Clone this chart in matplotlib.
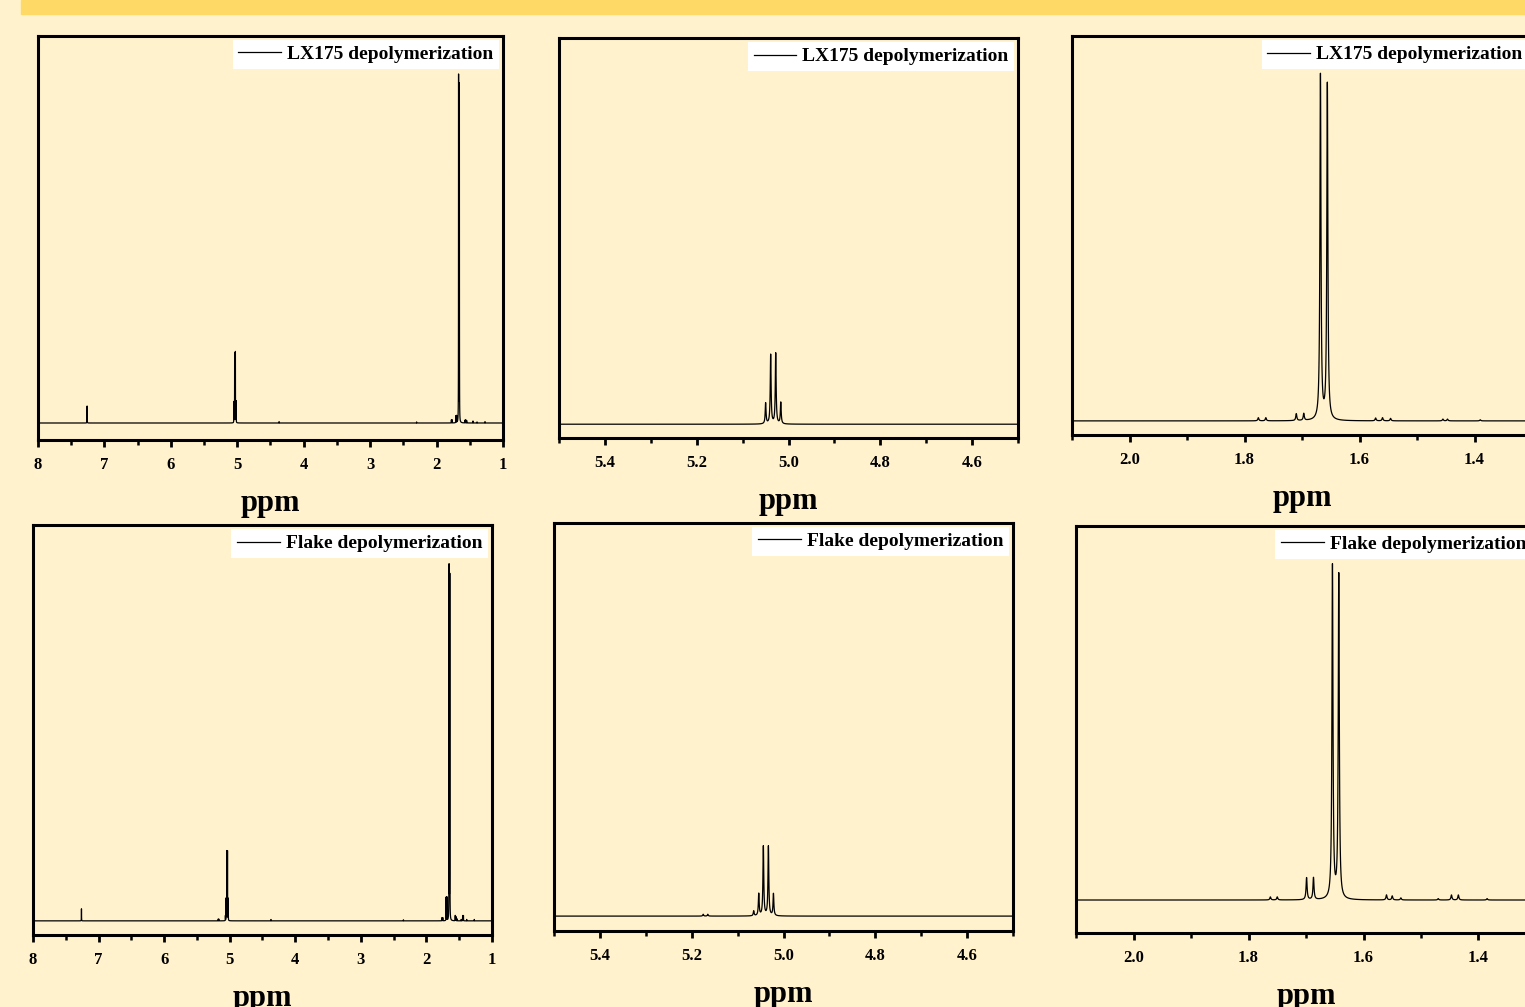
import numpy as np
import matplotlib
matplotlib.use("Agg")
from matplotlib import pyplot as plt
from matplotlib.patches import Rectangle
from matplotlib.ticker import MultipleLocator

# peak lists (ppm, relative height; tallest peak = 1)
lx_shift = [7.26, 5.050, 5.039, 5.028, 5.017, 4.37, 2.30,
            1.776, 1.763, 1.710, 1.697, 1.668, 1.656,
            1.572, 1.560, 1.546, 1.455, 1.447, 1.39, 1.27]
lx_height = [0.049, 0.060, 0.200, 0.204, 0.062, 0.004, 0.003,
             0.009, 0.009, 0.020, 0.020, 1.0, 0.974,
             0.008, 0.009, 0.007, 0.005, 0.005, 0.003, 0.004]

flake_shift = [7.26, 5.175, 5.165, 5.065, 5.054, 5.044, 5.033, 5.022, 4.37, 2.35,
               1.762, 1.750, 1.699, 1.687, 1.654, 1.643,
               1.560, 1.550, 1.535, 1.470, 1.447, 1.435, 1.385, 1.27]
flake_height = [0.034, 0.005, 0.005, 0.014, 0.062, 0.196, 0.196, 0.062, 0.004, 0.003,
                0.009, 0.009, 0.066, 0.066, 1.0, 0.973,
                0.015, 0.012, 0.006, 0.004, 0.015, 0.015, 0.004, 0.004]

labels = ["LX175 depolymerization", "Flake depolymerization"]
x_ranges = [(8, 1), (5.5, 4.5), (2.1, 1.3)]
major_steps = [1, 0.2, 0.2]
minor_steps = [0.5, 0.1, 0.1]
tick_fmt = ["{:.0f}", "{:.1f}", "{:.1f}"]

# axes boxes [left, bottom, width, height] in figure fraction
boxes = [
    [[0.0249, 0.5631, 0.3049, 0.4012], [0.3666, 0.5650, 0.3010, 0.3972], [0.7030, 0.5680, 0.3016, 0.3962]],
    [[0.0216, 0.0715, 0.3010, 0.4071], [0.3633, 0.0755, 0.3010, 0.4052], [0.7056, 0.0735, 0.3016, 0.4042]],
]
ylims = [
    [(-0.049, 1.118), (-0.040, 1.116), (-0.041, 1.116)],
    [(-0.040, 1.119), (-0.042, 1.110), (-0.099, 1.123)],
]

bg = "#FFF2CC"
band = "#FFD966"
plt.rcParams["font.family"] = ["Liberation Serif", "DejaVu Serif"]
plt.rcParams["path.simplify"] = False


def spectrum(ppm, shifts, heights, gamma=0.0011):
    y = np.zeros_like(ppm)
    for s, h in zip(shifts, heights):
        y += h / (1 + ((ppm - s) / gamma) ** 2)
    return y


ppm = np.arange(0.9, 8.1, 0.0001)
spectra = [spectrum(ppm, lx_shift, lx_height), spectrum(ppm, flake_shift, flake_height)]

fig = plt.figure(figsize=(15.25, 10.07), dpi=100)
fig.patch.set_facecolor(bg)
fig.patches.append(Rectangle((21 / 1525, 1 - 14 / 1007), 1.0, 14 / 1007,
                             transform=fig.transFigure, color=band, zorder=0))

for row in range(2):
    for col in range(3):
        ax = fig.add_axes(boxes[row][col])
        ax.set_facecolor(bg)
        ax.plot(ppm, spectra[row], color="black", lw=0.9, label=labels[row])
        ax.set_xlim(*x_ranges[col])
        ax.set_ylim(*ylims[row][col])
        ax.xaxis.set_major_locator(MultipleLocator(major_steps[col]))
        ax.xaxis.set_minor_locator(MultipleLocator(minor_steps[col]))
        ax.xaxis.set_major_formatter(plt.FuncFormatter(lambda v, p, f=tick_fmt[col]: f.format(v)))
        ax.tick_params(axis="x", which="major", direction="out", length=5, width=2,
                       labelsize=12, pad=7)
        ax.tick_params(axis="x", which="minor", direction="out", length=3.5, width=1.8)
        ax.tick_params(axis="y", left=False, labelleft=False)
        for lab in ax.get_xticklabels():
            lab.set_fontweight("bold")
        for sp in ax.spines.values():
            sp.set_linewidth(2.2)
        ax.set_xlabel("ppm", fontsize=22, fontweight="bold", labelpad=12)
        leg = ax.legend(loc="upper right", fontsize=14, handlelength=2.2,
                        borderaxespad=0.2, borderpad=0.3, fancybox=False,
                        framealpha=1, handletextpad=0.3)
        leg.get_frame().set_facecolor("white")
        leg.get_frame().set_edgecolor("none")
        for t in leg.get_texts():
            t.set_fontweight("bold")

fig.savefig("out.png", dpi=100, facecolor=bg)
